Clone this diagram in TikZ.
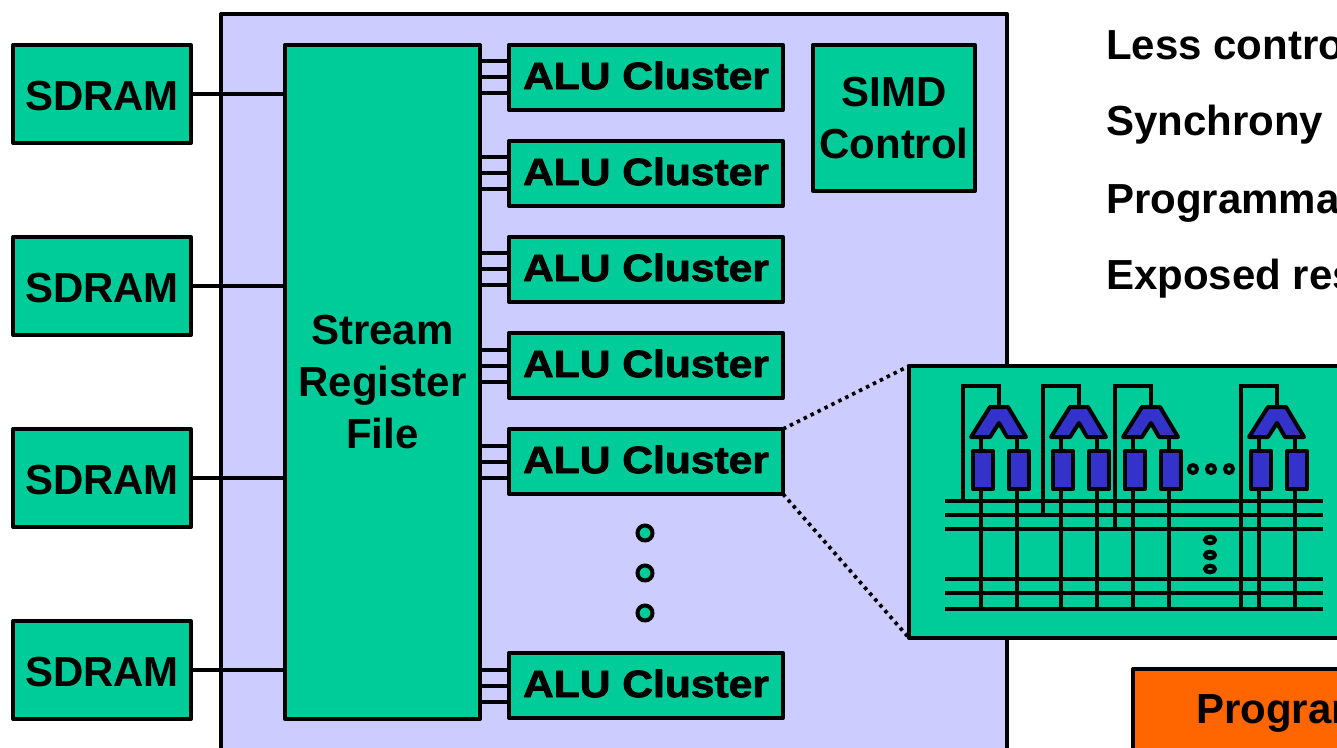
\documentclass[tikz,border=0pt]{standalone}
\usepackage{fontspec}
\setmainfont{Liberation Sans}
\newfontfamily\alufont{Liberation Sans Bold}[FakeBold=2.2,FakeStretch=1.12]
\usetikzlibrary{positioning,shapes.geometric}
\definecolor{srfgreen}{HTML}{00CC99}
\definecolor{chiplilac}{HTML}{CCCCFF}
\definecolor{regblue}{HTML}{3333CC}
\definecolor{progorange}{HTML}{FF6600}

\begin{document}
\begin{tikzpicture}[
  x=0.75pt, y=-0.75pt,
  font=\fontsize{31.5}{39}\selectfont\bfseries,
  block/.style={draw, line width=3pt, fill=srfgreen, align=center, inner sep=0pt,
                outer sep=0pt, line join=round},
  dram/.style={block, minimum width=133.5pt, minimum height=73.5pt, text height=25pt},
  alu/.style={block, minimum width=205.5pt, minimum height=48.75pt, text depth=3.3pt,
              font=\fontsize{28.5}{34}\alufont},
  reg/.style={block, fill=regblue, minimum width=15pt, minimum height=28.5pt},
  wire/.style={line width=3pt},
  zoomline/.style={line width=2.8pt, dash pattern=on 2.6pt off 3.2pt},
  dot/.style={circle, draw, line width=3pt, fill=srfgreen, inner sep=0pt, minimum size=11.25pt},
  smalldot/.style={circle, draw, line width=3pt, fill=srfgreen, inner sep=0pt, minimum size=6pt},
  flatdot/.style={ellipse, draw, line width=3pt, fill=srfgreen, inner sep=0pt,
                  minimum width=7.5pt, minimum height=5pt},
  bullet/.style={anchor=base west, inner sep=0pt},
  node distance=70.5pt
]
\useasboundingbox (0,0) rectangle (1337,748);
\clip (0,0) rectangle (1337,748);

\node[block, fill=chiplilac, minimum width=589.5pt, minimum height=567pt] (chip) at (614,392) {};

\node[block, minimum width=146.25pt, minimum height=505.5pt, text width=146pt] (srf) at (382.5,382)
  {Stream\\ Register\\ File};

\node[dram] (dram1) at (102,94) {SDRAM};
\node[dram, below=of dram1] (dram2) {SDRAM};
\node[dram, below=of dram2] (dram3) {SDRAM};
\node[dram, below=of dram3] (dram4) {SDRAM};

\node[alu] (alu1) at (646,77.5) {ALU Cluster};
\node[alu, below=23.25pt of alu1] (alu2) {ALU Cluster};
\node[alu, below=23.25pt of alu2] (alu3) {ALU Cluster};
\node[alu, below=23.25pt of alu3] (alu4) {ALU Cluster};
\node[alu, below=23.25pt of alu4] (alu5) {ALU Cluster};
\node[alu, below=119.25pt of alu5] (alu6) {ALU Cluster};

\node[block, minimum width=121.5pt, minimum height=109.5pt] (simd) at (894,118) {SIMD\\ Control};

\foreach \i in {1,...,4}
  \draw[wire] (dram\i.east) -- (dram\i.east -| srf.west);
\foreach \i in {1,...,6}
  \foreach \d in {-12,0,12}
    \draw[wire] ([yshift=\d pt]alu\i.west) -- ([yshift=\d pt]alu\i.west -| srf.east);

\node[dot] (gap1) at (645,533) {};
\node[dot] (gap2) at (645,573) {};
\node[dot] (gap3) at (645,613) {};

% blow-up of one cluster
\node[block, minimum width=330pt, minimum height=204pt] (detail) at (1129,502) {};
\draw[zoomline] (alu5.north east) -- (detail.north west);
\draw[zoomline] (alu5.south east) -- (detail.south west);

\foreach \b/\y in {1/501,2/515,3/529,4/579,5/593,6/609} {
  \coordinate (busw\b) at (945,\y);
  \coordinate (buse\b) at (1323,\y);
  \draw[wire] (busw\b) -- (buse\b);
}
\foreach \id/\cx/\bus in {1/999/1,2/1079/2,3/1151/3,4/1277/6} {
  \coordinate (top\id) at (\cx,407);
  \coordinate (fb\id) at (\cx-36,386);
  \coordinate (pa\id) at (\cx-18,437);
  \coordinate (pb\id) at (\cx+18,437);
  \draw[wire] (top\id) |- (fb\id) -- (fb\id |- busw\bus);
  \draw[wire] (pa\id) -- (pa\id |- busw6);
  \draw[wire] (pb\id) -- (pb\id |- busw6);
  \node[reg] (rega\id) at (\cx-16,470) {};
  \node[reg] (regb\id) at (\cx+20,470) {};
  \draw[block, fill=regblue] (\cx-9,407) -- (\cx+9,407) -- (\cx+27,437) -- (\cx+8,437)
    -- (\cx,423) -- (\cx-9,437) -- (\cx-28,437) -- cycle;
}
\node[smalldot] (hdot1) at (1193,469) {};
\node[smalldot] (hdot2) at (1211,469) {};
\node[smalldot] (hdot3) at (1229,469) {};
\node[flatdot] (vdot1) at (1210,540) {};
\node[flatdot] (vdot2) at (1210,555) {};
\node[flatdot] (vdot3) at (1210,569) {};

\node[bullet] (less) at (1106,60) {Less contro};
\node[bullet] (sync) at (1106,136) {Synchrony};
\node[bullet] (prgm) at (1106,214) {Programma};
\node[bullet] (expo) at (1106,290) {Exposed res};

\node[block, fill=progorange, minimum width=165pt, minimum height=75pt] (prog) at (1243,719) {};
\node[bullet] (progtext) at (1196,723) {Program};
\end{tikzpicture}
\end{document}
